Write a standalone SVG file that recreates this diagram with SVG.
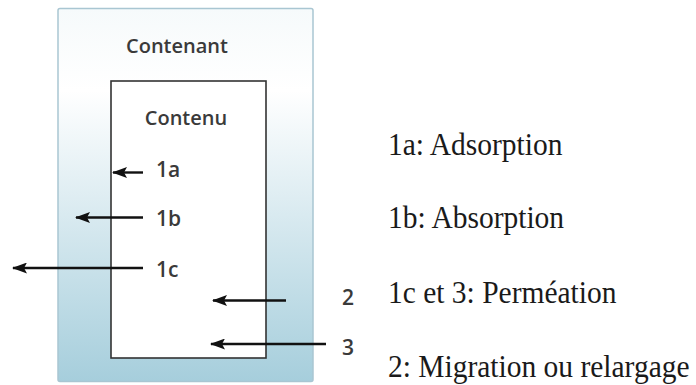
<svg xmlns="http://www.w3.org/2000/svg" width="696" height="385" viewBox="0 0 696 385">
<style>
.lbl{font-family:"Open Sans","Noto Sans","Liberation Sans",sans-serif;font-weight:600;fill:#3a3a3a}
.leg{font-family:"Liberation Serif","Times New Roman",serif;font-size:29.5px;fill:#1a1a1a}
.arr{stroke:#111;stroke-width:2.4;fill:none;marker-end:url(#ah)}
</style>
<defs>
<linearGradient id="g" x1="0" y1="0" x2="0" y2="1">
<stop offset="0" stop-color="#f6fafb"/>
<stop offset="0.22" stop-color="#ffffff"/>
<stop offset="1" stop-color="#a6cedc"/>
</linearGradient>
<marker id="ah" viewBox="0 0 15 11" refX="14" refY="5.5" markerWidth="15" markerHeight="11" markerUnits="userSpaceOnUse" orient="auto">
<path d="M0,0 L15,5.5 L0,11 L3,5.5 Z" fill="#111"/>
</marker>
</defs>
<g id="contenant">
<rect x="58" y="8.5" width="255" height="373" rx="2" fill="url(#g)" stroke="#a9c6d2" stroke-width="1.5"/>
<text class="lbl" x="177" y="53" font-size="20" text-anchor="middle">Contenant</text>
</g>
<g id="contenu">
<rect x="111" y="81" width="155" height="277" fill="#ffffff" stroke="#333" stroke-width="1.6"/>
<text class="lbl" x="186" y="125" font-size="20" text-anchor="middle">Contenu</text>
</g>
<g id="labels">
<text class="lbl" x="156" y="177" font-size="21">1a</text>
<text class="lbl" x="156" y="226" font-size="21">1b</text>
<text class="lbl" x="156" y="277" font-size="21">1c</text>
<text class="lbl" x="342" y="305" font-size="21">2</text>
<text class="lbl" x="342" y="355" font-size="21">3</text>
</g>
<g id="connectors">
<line class="arr" x1="143" y1="172.5" x2="113" y2="172.5"/>
<line class="arr" x1="143" y1="217.5" x2="76" y2="217.5"/>
<line class="arr" x1="143" y1="268" x2="13" y2="268"/>
<line class="arr" x1="286" y1="300.5" x2="213" y2="300.5"/>
<line class="arr" x1="326" y1="344" x2="211" y2="344"/>
</g>
<g id="legend">
<text class="leg" transform="translate(388,155) scale(1,1.07)">1a: Adsorption</text>
<text class="leg" transform="translate(388,228) scale(1,1.07)">1b: Absorption</text>
<text class="leg" transform="translate(388,303) scale(1,1.07)">1c et 3: Perméation</text>
<text class="leg" transform="translate(388,377) scale(1,1.07)">2: Migration ou relargage</text>
</g>
</svg>
